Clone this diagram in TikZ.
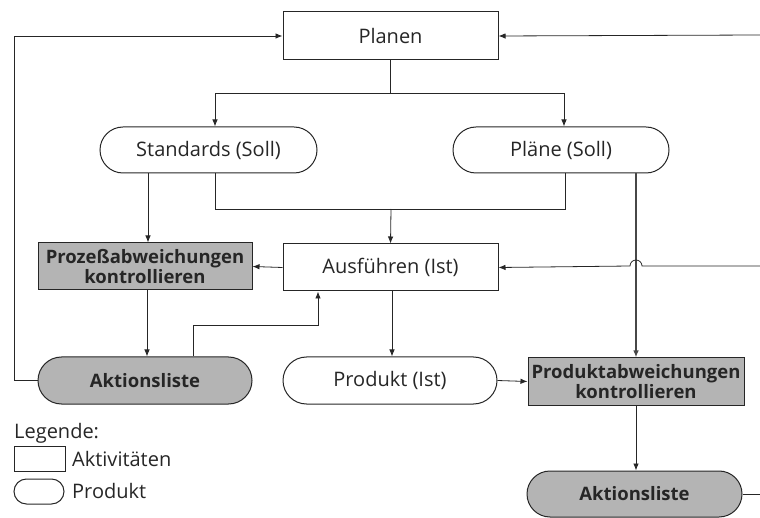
\documentclass[tikz,border=0pt]{standalone}
\usepackage{fontspec}
\setmainfont{Open Sans}
\usetikzlibrary{shapes.misc,arrows.meta}
\definecolor{ink}{HTML}{262626}
\definecolor{shade}{HTML}{B4B4B4}
\tikzset{
  every node/.style={font=\fontsize{20}{22}\selectfont, text=ink},
  activity/.style={draw=ink, line width=1pt, rectangle, inner sep=0pt},
  product/.style={draw=ink, line width=1pt, rounded rectangle, inner sep=0pt},
  control/.style={activity, fill=shade, font=\fontsize{18.5}{19.5}\selectfont\bfseries, align=center},
  actionlist/.style={product, fill=shade, font=\fontsize{18.5}{20}\selectfont\bfseries},
  conn/.style={draw=ink, line width=0.8pt},
  arr/.style={conn, -{Latex[length=7pt,width=5.5pt]}},
}
\begin{document}
\begin{tikzpicture}[x=1pt,y=-1pt]
  \useasboundingbox (0,0) rectangle (760,518);

  % main flow
  \node[activity, minimum width=215pt, minimum height=48pt] (planen) at (390.5,36) {Planen};
  \node[product, minimum width=217pt, minimum height=46pt] (std) at (208.5,150) {Standards (Soll)};
  \node[product, minimum width=216pt, minimum height=46pt] (plaene) at (561,150) {Pläne (Soll)};
  \node[control, minimum width=214pt, minimum height=47pt] (proz) at (145,266.5) {Prozeßabweichungen\\kontrollieren};
  \node[activity, minimum width=215pt, minimum height=47pt] (ausf) at (390.5,267.5) {Ausführen (Ist)};
  \node[actionlist, minimum width=214pt, minimum height=47pt] (akt1) at (145,380.5) {Aktionsliste};
  \node[product, minimum width=214pt, minimum height=47pt] (prod) at (390,380.5) {Produkt (Ist)};
  \node[control, minimum width=216pt, minimum height=47pt] (pab) at (636,381.5) {Produktabweichungen\\kontrollieren};
  \node[actionlist, minimum width=215pt, minimum height=46pt] (akt2) at (634.5,494) {Aktionsliste};

  % routing points
  \coordinate (split) at (390.5,93);
  \coordinate (merge) at (391,209);
  \coordinate (fbrow) at (0,325);
  \coordinate (leftrail) at (14,0);
  \coordinate (inTop) at (760,35);
  \coordinate (inMid) at (760,266);
  \coordinate (outBot) at (760,494);

  % Planen -> Standards / Plaene
  \draw[conn] (planen.south) -- (split);
  \draw[arr] (split) -| ([xshift=6.5pt]std.north);
  \draw[arr] (split) -| ([xshift=3pt]plaene.north);

  % Standards + Plaene -> Ausfuehren
  \draw[conn] ([xshift=6.5pt]std.south) -- ([xshift=6.5pt]std.south |- merge)
              -- ([xshift=4pt]plaene.south |- merge) -- ([xshift=4pt]plaene.south);
  \draw[arr] (merge) -- (ausf.north);

  % Standards -> Prozessabweichungen
  \draw[arr] ([xshift=-60.5pt]std.south) -- ([xshift=-60.5pt]std.south |- proz.north);
  % Ausfuehren -> Prozessabweichungen
  \draw[arr] (ausf.west) -- (proz.east);
  % Prozessabweichungen -> Aktionsliste
  \draw[arr] ([xshift=2pt]proz.south) -- ([xshift=2pt]akt1.north);
  % Aktionsliste -> Ausfuehren
  \draw[arr] ([xshift=48pt]akt1.north) -- ([xshift=48pt]akt1.north |- fbrow)
             -| ([xshift=-72.5pt]ausf.south);
  % Ausfuehren -> Produkt
  \draw[arr] ([xshift=1.5pt]ausf.south) -- ([xshift=2pt]prod.north);
  % Produkt -> Produktabweichungen
  \draw[arr] (prod.east) -- (pab.west);
  % Plaene -> Produktabweichungen
  \draw[arr, line width=1.4pt, draw=ink!85] ([xshift=75pt]plaene.south) -- (pab.north);
  % Produktabweichungen -> Aktionsliste
  \draw[arr] (pab.south) -- ([xshift=1.5pt]akt2.north);

  % feedback loops
  \draw[arr] (akt1.west) -- (akt1.west -| leftrail) |- (planen.west);
  \draw[arr] (inTop) -- (planen.east);
  \draw[arr] (inMid) -- (642,266) arc[start angle=0, end angle=180, radius=6pt] -- (ausf.east);
  \draw[conn] (akt2.east) -- (outBot);

  % legend
  \node[anchor=west, inner sep=0pt] (leg) at (14,433) {Legende:};
  \node[draw=ink, line width=1pt, rectangle, minimum width=51pt, minimum height=25pt, inner sep=0pt] (legact) at (39.5,458.5) {};
  \node[anchor=west, inner sep=0pt] (legacttxt) at (72,459) {Aktivitäten};
  \node[draw=ink, line width=1pt, rounded rectangle, minimum width=50pt, minimum height=25pt, inner sep=0pt] (legprod) at (39,491.5) {};
  \node[anchor=west, inner sep=0pt] (legprodtxt) at (72,491) {Produkt};
\end{tikzpicture}
\end{document}
